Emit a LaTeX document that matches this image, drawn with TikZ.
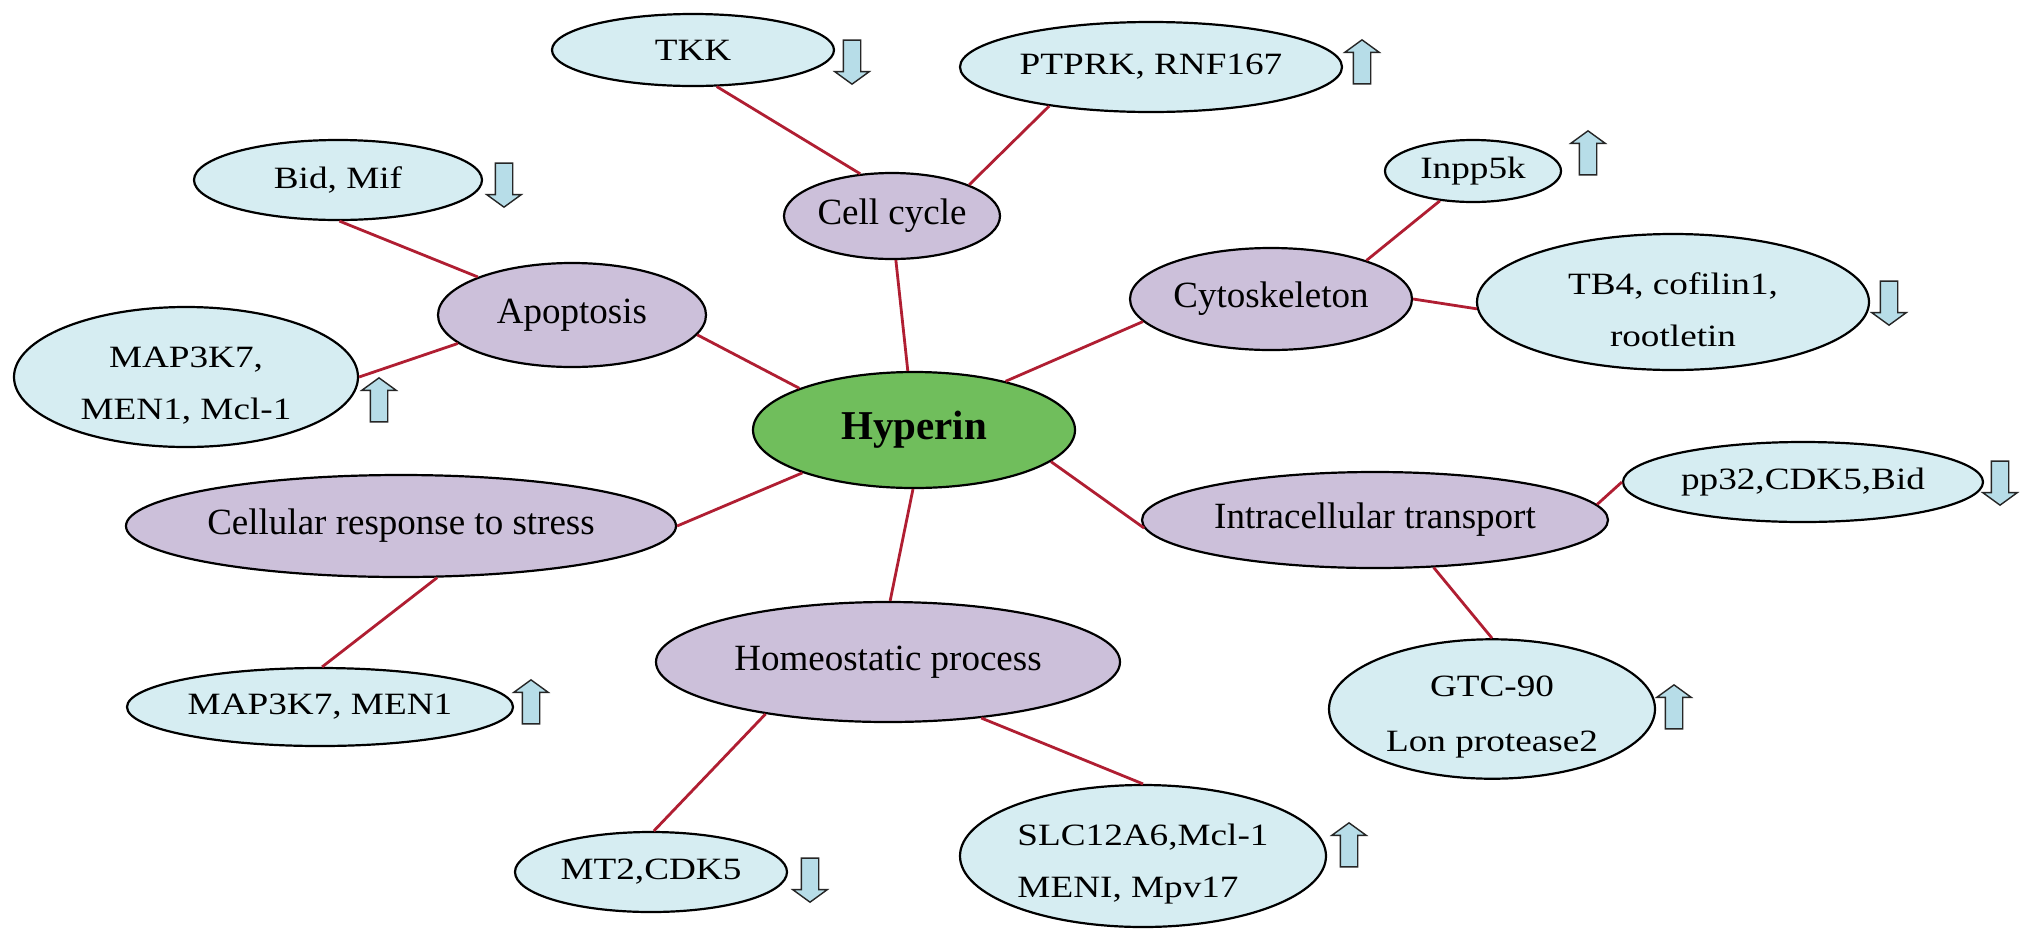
\documentclass[tikz,border=0pt]{standalone}
\usepackage{fontspec}
\setmainfont{Liberation Serif}
\usetikzlibrary{shapes.geometric,shapes.arrows}
\definecolor{gblue}{RGB}{214,237,242}
\definecolor{gpurple}{RGB}{204,192,218}
\definecolor{ggreen}{RGB}{112,190,92}
\definecolor{lnred}{RGB}{176,30,50}
\definecolor{arfill}{RGB}{183,221,232}
\newcommand{\gtxt}[1]{\scalebox{1.2}[1]{#1}}
\newcommand{\firststrut}{\rule{0pt}{37pt}}
\tikzset{
  basenode/.style={ellipse, draw=black, line width=2.2pt, inner sep=0pt},
  gene/.style={basenode, fill=gblue, font=\fontsize{31}{52}\selectfont, align=center},
  proc/.style={basenode, fill=gpurple, font=\fontsize{37}{44}\selectfont},
  hub/.style={basenode, fill=ggreen, font=\fontsize{41}{48}\selectfont\bfseries},
  link/.style={draw=lnred, line width=2.8pt},
  arrbase/.style={single arrow, draw=black!85, line width=1.4pt, fill=arfill,
    minimum height=44pt, inner xsep=0pt, inner ysep=8pt,
    single arrow head extend=8.5pt, single arrow tip angle=108},
  arrup/.style={arrbase, rotate=90},
  arrdn/.style={arrbase, rotate=-90},
  sz/.style 2 args={minimum width=#1pt, minimum height=#2pt}
}
\begin{document}
\begin{tikzpicture}[x=1pt,y=-1pt]
\fill[white] (0,0) rectangle (2031,943);
\useasboundingbox (0,0) rectangle (2031,943);

% process / hub nodes
\node[hub, sz={322}{116}] (hyp) at (914,430) {Hyperin};
\node[proc, sz={216}{86}] (cell) at (892,216) {Cell cycle};
\node[proc, sz={268}{104}] (apop) at (572,315) {Apoptosis};
\node[proc, sz={550}{102}] (cellr) at (401,526) {Cellular response to stress};
\node[proc, sz={464}{120}] (homeo) at (888,662) {Homeostatic process};
\node[proc, sz={282}{102}] (cyto) at (1271,299) {Cytoskeleton};
\node[proc, sz={466}{96}] (intra) at (1375,520) {Intracellular transport};

% gene nodes
\node[gene, sz={282}{72}] (tkk) at (693,50) {\gtxt{TKK}};
\node[gene, sz={382}{90}] (ptprk) at (1151,67) {\gtxt{PTPRK, RNF167}};
\node[gene, sz={288}{80}] (bid) at (338,180) {\gtxt{Bid, Mif}};
\node[gene, sz={344}{140}] (mapA) at (186,377) {\firststrut\gtxt{MAP3K7,}\\\gtxt{MEN1, Mcl-1}};
\node[gene, sz={386}{78}] (mapB) at (320,707) {\gtxt{MAP3K7, MEN1}};
\node[gene, sz={272}{80}] (mt2) at (651,872) {\gtxt{MT2,CDK5}};
\node[gene, sz={366}{142}, align=left] (slc) at (1143,856) {\firststrut\gtxt{SLC12A6,Mcl-1}\\\gtxt{MENI, Mpv17}};
\node[gene, sz={176}{62}] (inpp) at (1473,171) {\gtxt{Inpp5k}};
\node[gene, sz={392}{136}] (tb4) at (1673,302) {\firststrut\gtxt{TB4, cofilin1,}\\\gtxt{rootletin}};
\node[gene, sz={360}{80}] (pp32) at (1803,482) {\gtxt{pp32,CDK5,Bid}};
\node[gene, sz={326}{132}, font=\fontsize{31}{55}\selectfont] (gtc) at (1492,709) {\firststrut\gtxt{GTC-90}\\\gtxt{Lon protease2}};

% up/down arrows
\node[arrdn] (a1) at (852,59) {};
\node[arrup] (a2) at (1362,65) {};
\node[arrdn] (a3) at (504,182) {};
\node[arrup] (a4) at (379,403) {};
\node[arrup] (a5) at (531,705) {};
\node[arrdn] (a6) at (810,877) {};
\node[arrup] (a7) at (1349,848) {};
\node[arrup] (a8) at (1588,156) {};
\node[arrdn] (a9) at (1889,300) {};
\node[arrdn] (a10) at (2000,480) {};
\node[arrup] (a11) at (1674,710) {};

% connectors
\draw[link] (tkk.-57) -- (cell.127);
\draw[link] (ptprk.201) -- (cell.22);
\draw[link] (cell.-85) -- (hyp.96);
\draw[link] (bid.-88) -- (apop.158);
\draw[link] (apop.194) -- (mapA.0);
\draw[link] (apop.-9) -- (hyp.160);
\draw[link] (hyp.201) -- (cellr.0);
\draw[link] (cellr.-55) -- (mapB.87);
\draw[link] (hyp.-91) -- (homeo.88);
\draw[link] (homeo.203) -- (mt2.86);
\draw[link] (homeo.-31) -- (slc.90);
\draw[link] (hyp.28) -- (cyto.190);
\draw[link] (cyto.22) -- (inpp.222);
\draw[link] (cyto.0) -- (tb4.182);
\draw[link] (hyp.-13) -- (intra.182);
\draw[link] (intra.4) -- (pp32.180);
\draw[link] (intra.-39) -- (gtc.90);
\end{tikzpicture}
\end{document}
